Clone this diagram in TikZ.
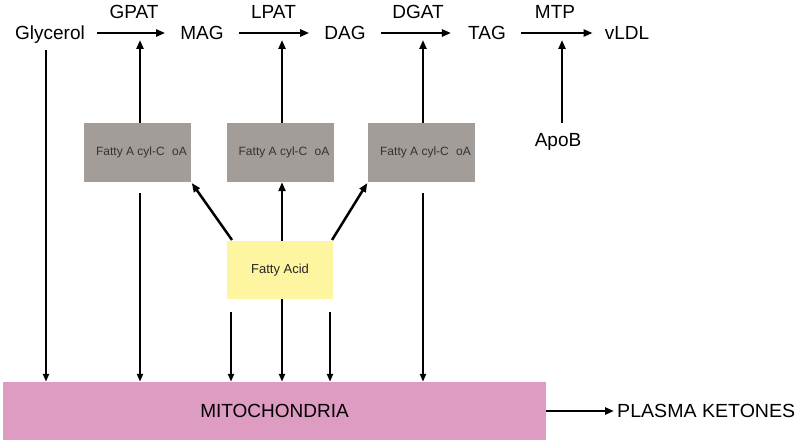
\documentclass[tikz,border=0pt]{standalone}
\usepackage{fontspec}
\setmainfont{Liberation Sans}
\usetikzlibrary{arrows.meta}
\definecolor{boxgray}{HTML}{A29D98}
\definecolor{fayellow}{HTML}{FDF59F}
\definecolor{mitopink}{HTML}{DE9CC2}
\definecolor{smalltext}{HTML}{333333}
\begin{document}
\begin{tikzpicture}[x=1pt,y=-1pt,
  big/.style={font=\fontsize{19}{22}\selectfont, text height=13.6pt, text depth=0pt, inner sep=0pt},
  enz/.style={font=\fontsize{19}{22}\selectfont, inner sep=0pt},
  acyl/.style={fill=boxgray, minimum width=107pt, minimum height=59pt, inner sep=0pt,
     font=\fontsize{12}{14}\selectfont, text=smalltext},
  arr/.style={line width=2.5pt, -{Triangle[length=9pt,width=7pt]}},
  thinarr/.style={line width=2pt, -{Triangle[length=8pt,width=6pt]}}]
\useasboundingbox (0,0) rectangle (797,444);
% main pathway
\node[big] (glycerol) at (50,33) {Glycerol};
\node[big] (mag) at (202,33) {MAG};
\node[big] (dag) at (345,33) {DAG};
\node[big] (tag) at (487,33) {TAG};
\node[big] (vldl) at (627,33) {vLDL};
\node[enz] (gpat) at (134,12) {GPAT};
\node[enz] (lpat) at (273.5,12) {LPAT};
\node[enz] (dgat) at (418,12) {DGAT};
\node[enz] (mtp) at (555,12) {MTP};
\node[big] (apob) at (558,140) {ApoB};
\draw[arr, shorten <=12pt, shorten >=15pt] (glycerol) -- (mag);
\draw[arr, shorten <=15pt, shorten >=15pt] (mag) -- (dag);
\draw[arr, shorten <=15pt, shorten >=17pt] (dag) -- (tag);
\draw[arr, shorten <=15pt, shorten >=12pt] (tag) -- (vldl);
% targets of the up arrows
\coordinate (t1) at (140,40);
\coordinate (t2) at (282,40);
\coordinate (t3) at (423,40);
\coordinate (t4) at (562,40);
\draw[arr, shorten <=10pt] (apob.north -| t4) -- (t4);
% acyl-CoA boxes
\node[acyl] (fa1) at (137.5,152.5) {\hspace*{8pt}Fatty A cyl-C\hspace{4pt} oA};
\node[acyl] (fa2) at (280,152.5) {\hspace*{8pt}Fatty A cyl-C\hspace{4pt} oA};
\node[acyl] (fa3) at (421.5,152.5) {\hspace*{8pt}Fatty A cyl-C\hspace{4pt} oA};
\draw[arr] (t1 |- fa1.north) -- (t1);
\draw[arr] (t2 |- fa2.north) -- (t2);
\draw[arr] (t3 |- fa3.north) -- (t3);
% fatty acid
\node[fill=fayellow, minimum width=106pt, minimum height=58pt, inner sep=0pt,
  font=\fontsize{13}{15}\selectfont, text=black!85] (fa) at (280,270) {Fatty Acid};
\coordinate (s1) at (232,240);
\coordinate (s2) at (332,240);
\draw[arr, shorten >=1pt] (s1) -- (fa1.south east);
\draw[arr, shorten >=1pt] (s2) -- (fa3.south west);
\draw[arr] (fa.north -| t2) -- (fa2.south -| t2);
% mitochondria
\node[fill=mitopink, minimum width=543pt, minimum height=58pt, inner sep=0pt,
  font=\fontsize{19}{22}\selectfont] (mito) at (274.5,411) {MITOCHONDRIA};
\node[font=\fontsize{19}{22}\selectfont, anchor=west, inner sep=0pt, xscale=1.03] (ket) at (617,411) {PLASMA KETONES};
\draw[arr, shorten >=3pt] (mito.east) -- (ket.west);
% down arrows into mitochondria
\coordinate (m0) at (46,50);
\draw[thinarr] (m0) -- (m0 |- mito.north);
\draw[thinarr] ([yshift=-11pt]fa1.south -| t1) -- (t1 |- mito.north);
\draw[thinarr] ([yshift=-11pt]fa3.south -| t3) -- (t3 |- mito.north);
\coordinate (b1) at (231,312);
\coordinate (b2) at (330,312);
\draw[thinarr] (b1) -- (b1 |- mito.north);
\draw[thinarr] (fa.south -| t2) -- (t2 |- mito.north);
\draw[thinarr] (b2) -- (b2 |- mito.north);
\end{tikzpicture}
\end{document}
